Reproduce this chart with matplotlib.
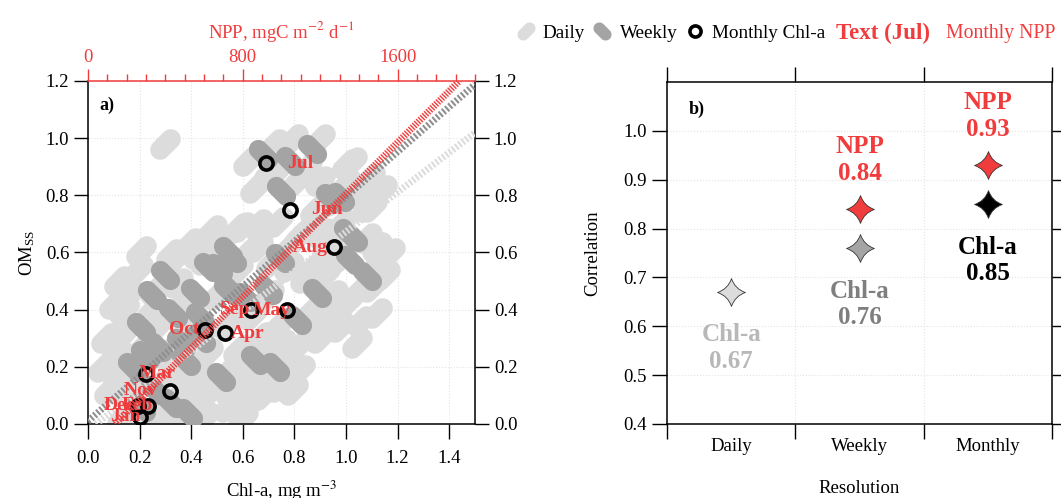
import numpy as np
import matplotlib
matplotlib.use('Agg')
import matplotlib.pyplot as plt
from matplotlib.path import Path
from matplotlib.lines import Line2D
from matplotlib.ticker import MultipleLocator, FormatStrFormatter

plt.rcParams['font.family'] = ['Liberation Serif', 'DejaVu Serif']
plt.rcParams['mathtext.fontset'] = 'stix'

# daily / weekly Chl-a vs OMss
daily_chl = [0.297, 0.646, 0.581, 0.491, 0.426, 0.207, 0.323, 0.796, 0.899, 1.003,
             1.093, 1.041, 0.809, 1.132, 1.170, 0.873, 1.119, 1.041, 0.977, 0.951,
             1.041, 0.809, 0.822, 0.796, 0.194, 0.323, 0.452, 0.581, 0.711, 0.129,
             0.168, 0.116, 0.155, 0.258, 0.323, 0.452, 0.543, 0.620, 0.711, 0.775,
             0.426, 0.465, 0.581, 0.672, 0.749, 0.388, 0.258, 0.349, 1.022, 0.596,
             0.738, 0.906, 0.395, 0.841, 0.700, 0.930, 0.980, 0.880, 0.700, 0.600,
             0.900, 0.950, 0.500, 0.300, 0.250, 0.160, 0.550, 0.350, 0.870, 0.660,
             0.780, 1.080, 0.220, 0.140, 0.420,
             0.100, 0.120, 0.110, 0.080, 0.130, 0.380, 0.480, 0.400, 0.300, 0.560,
             0.680, 0.750, 0.620, 0.700, 0.920, 1.100, 0.980, 1.060, 0.880, 1.000,
             0.480, 0.660, 0.620, 0.520, 0.620, 0.720, 0.750, 0.850, 0.900, 0.950,
             1.100, 0.870, 0.820, 0.780, 0.200, 0.280, 0.360, 0.540, 0.640, 0.740,
             0.070, 0.060, 1.140, 1.080, 1.150, 1.120, 1.000, 0.600]
daily_om = [0.979, 0.827, 0.687, 0.629, 0.594, 0.605, 0.594, 0.996, 0.996, 0.909,
            0.862, 0.815, 0.850, 0.574, 0.598, 0.550, 0.387, 0.282, 0.340, 0.375,
            0.457, 0.270, 0.189, 0.119, 0.539, 0.562, 0.574, 0.539, 0.562, 0.305,
            0.235, 0.166, 0.107, 0.049, 0.014, 0.026, 0.061, 0.119, 0.166, 0.212,
            0.166, 0.247, 0.259, 0.305, 0.352, 0.340, 0.469, 0.492, 0.918, 0.690,
            0.708, 0.667, 0.632, 0.510, 0.880, 0.620, 0.700, 0.750, 0.450, 0.400,
            0.300, 0.450, 0.450, 0.250, 0.400, 0.450, 0.120, 0.100, 0.400, 0.620,
            0.620, 0.650, 0.280, 0.400, 0.080,
            0.420, 0.500, 0.250, 0.120, 0.020, 0.180, 0.120, 0.050, 0.160, 0.200,
            0.100, 0.280, 0.180, 0.250, 0.520, 0.480, 0.580, 0.360, 0.330, 0.420,
            0.680, 0.700, 0.600, 0.560, 0.920, 0.980, 0.900, 0.900, 0.850, 0.780,
            0.760, 0.700, 0.660, 0.550, 0.180, 0.350, 0.420, 0.350, 0.380, 0.130,
            0.300, 0.200, 0.820, 0.760, 0.520, 0.620, 0.840, 0.020]

weekly_chl = [0.678, 0.749, 0.543, 0.867, 0.783, 0.938, 1.009, 1.016, 1.081, 0.886,
              0.809, 0.504, 0.413, 0.329, 0.207, 0.271, 0.362, 0.543, 0.607, 0.698,
              0.517, 0.646, 0.724, 0.258, 0.323, 0.207, 0.388, 0.977, 1.028, 0.466,
              0.557, 0.744, 0.434, 0.550, 0.250, 0.300, 0.440, 0.380, 0.170, 0.220]
weekly_om = [0.944, 0.815, 0.605, 0.961, 0.920, 0.792, 0.669, 0.574, 0.516, 0.457,
             0.364, 0.545, 0.457, 0.387, 0.340, 0.270, 0.282, 0.469, 0.445, 0.469,
             0.166, 0.224, 0.200, 0.119, 0.072, 0.061, 0.037, 0.795, 0.655, 0.550,
             0.580, 0.580, 0.375, 0.469, 0.450, 0.520, 0.300, 0.220, 0.200, 0.240]

# monthly climatology
months = ['Jan', 'Feb', 'Mar', 'Apr', 'May', 'Jun', 'Jul', 'Aug', 'Sep', 'Oct', 'Nov', 'Dec']
month_chl = [0.200, 0.234, 0.225, 0.531, 0.773, 0.783, 0.690, 0.955, 0.632, 0.453, 0.318, 0.195]
month_npp = [195, 255, 358, 823, 949, 1233, 1096, 1147, 761, 496, 272, 162]
month_om = [0.026, 0.064, 0.175, 0.318, 0.398, 0.749, 0.913, 0.618, 0.400, 0.330, 0.116, 0.064]

# regression lines (end points)
fit_daily_x, fit_daily_y = [0.03, 1.5], [0.0, 1.019]
fit_weekly_x, fit_weekly_y = [0.0, 1.5], [0.01, 1.188]
fit_npp_x, fit_npp_y = [140, 1920], [0.0, 1.201]

# correlation panel
resolutions = ['Daily', 'Weekly', 'Monthly']
r_chl = [0.67, 0.76, 0.85]
r_npp_pos = [1, 2]
r_npp = [0.84, 0.93]

light = '#dcdcdc'
mid = '#a4a4a4'
red = '#f03c3c'


def capsule(angle, length=1.75, r=0.5):
    t = np.linspace(-np.pi/2, np.pi/2, 16)
    right = np.c_[length/2 - r + r*np.cos(t), r*np.sin(t)]
    left = np.c_[-(length/2 - r) - r*np.cos(t), -r*np.sin(t)]
    pts = np.vstack([right, left, right[:1]])
    a = np.deg2rad(angle)
    rot = np.array([[np.cos(a), -np.sin(a)], [np.sin(a), np.cos(a)]])
    pts = pts @ rot.T
    codes = [Path.MOVETO] + [Path.LINETO]*(len(pts)-2) + [Path.CLOSEPOLY]
    return Path(pts, codes)


def star4(c=0.25):
    verts = [(1, 0), (c, c), (0, 1), (-c, c), (-1, 0), (-c, -c), (0, -1), (c, -c), (1, 0), (1, 0)]
    codes = [Path.MOVETO] + [Path.CURVE3]*8 + [Path.CLOSEPOLY]
    return Path(verts, codes)


fig = plt.figure(figsize=(10.61, 4.98), dpi=100)

# ---------------- panel a ----------------
ax = fig.add_axes([0.0829, 0.1486, 0.3648, 0.6888])
ax.set_xlim(0, 1.5)
ax.set_ylim(0, 1.2)
ax.set_axisbelow(True)
ax.grid(True, color='#e4e4e4', linestyle=':', linewidth=0.8)
ax.set_xticks(np.arange(0, 1.41, 0.2))
ax.set_yticks(np.arange(0, 1.21, 0.2))
ax.xaxis.set_major_formatter(FormatStrFormatter('%.1f'))
ax.yaxis.set_major_formatter(FormatStrFormatter('%.1f'))
ax.tick_params(direction='out', length=10, width=1, labelsize=13.5,
               right=True, labelright=True, top=False)
ax.tick_params(axis='x', length=11, pad=8)

ax.plot(daily_chl, daily_om, linestyle='none', marker=capsule(45), ms=22,
        mfc=light, mec='none', zorder=2)
ax.plot(weekly_chl, weekly_om, linestyle='none', marker=capsule(-45), ms=21,
        mfc=mid, mec='none', zorder=3)
ax.plot(fit_daily_x, fit_daily_y, color=light, lw=5, dashes=(0.3, 0.3),
        dash_capstyle='butt', zorder=4)
ax.plot(fit_weekly_x, fit_weekly_y, color='#8f8f8f', lw=5, dashes=(0.3, 0.3),
        dash_capstyle='butt', zorder=4)
ax.plot(month_chl, month_om, linestyle='none', marker='o', ms=9.5, mfc='none',
        mec='black', mew=2.6, zorder=5)
ax.set_xlabel('Chl-a, mg m$^{-3}$', fontsize=13.5, labelpad=8)
ax.set_ylabel('OM$_{\\mathregular{SS}}$', fontsize=13.5, labelpad=6)
ax.text(0.03, 0.955, 'a)', transform=ax.transAxes, fontsize=13, fontweight='bold',
        va='top')
for s in ['left', 'bottom', 'right']:
    ax.spines[s].set_linewidth(1.1)
ax.spines['top'].set_visible(False)

ax2 = ax.twiny()
ax2.set_xlim(0, 2000)
ax2.set_xticks([0, 800, 1600])
ax2.xaxis.set_minor_locator(MultipleLocator(100))
ax2.tick_params(axis='x', colors=red, direction='out', length=9, width=1,
                labelsize=13.5, pad=2)
ax2.tick_params(axis='x', which='minor', colors=red, direction='out', length=5, width=1)
for s in ['left', 'bottom', 'right']:
    ax2.spines[s].set_visible(False)
ax2.spines['top'].set_color(red)
ax2.spines['top'].set_linewidth(1.1)
ax2.plot(fit_npp_x, fit_npp_y, color=red, lw=5, dashes=(0.2, 0.2),
         dash_capstyle='butt', zorder=4)
for m, xn, yo in zip(months, month_npp, month_om):
    ax2.text(xn, yo, m, color=red, fontsize=14, fontweight='bold',
             ha='center', va='center', zorder=6)
ax2.set_xlabel('NPP, mgC m$^{-2}$ d$^{-1}$', color=red, fontsize=13.5, labelpad=8)

# ---------------- panel b ----------------
bx = fig.add_axes([0.6287, 0.1486, 0.3629, 0.6867])
bx.set_xlim(0, 3)
bx.set_ylim(0.4, 1.1)
bx.set_yticks(np.arange(0.4, 1.01, 0.1))
bx.yaxis.set_major_formatter(FormatStrFormatter('%.1f'))
bx.set_xticks([0, 1, 2, 3])
bx.set_xticklabels([])
bx.set_xticks([0.5, 1.5, 2.5], minor=True)
bx.set_xticklabels(resolutions, minor=True)
bx.tick_params(axis='x', which='minor', length=0, labelsize=13.5, pad=10)
bx.tick_params(axis='x', which='major', direction='out', length=11, width=1,
               top=True)
bx.tick_params(axis='y', direction='out', length=11, width=1, right=True,
               labelsize=13.5)
bx.grid(True, which='major', color='#e4e4e4', linestyle=':', linewidth=0.8)
for s in bx.spines.values():
    s.set_linewidth(1.1)

chl_fill = [light, mid, 'black']
chl_text = ['#b8b8b8', '#7f7f7f', 'black']
pos = [0.5, 1.5, 2.5]
for x, r, fc, tc in zip(pos, r_chl, chl_fill, chl_text):
    bx.plot([x], [r], linestyle='none', marker=star4(), ms=20, mfc=fc,
            mec='#333333', mew=0.6, zorder=4)
    bx.text(x, r - 0.115, 'Chl-a\n%.2f' % r, color=tc, fontsize=18,
            fontweight='bold', ha='center', va='center', linespacing=1.2)
for i, r in zip(r_npp_pos, r_npp):
    bx.plot([pos[i]], [r], linestyle='none', marker=star4(), ms=20, mfc=red,
            mec='#333333', mew=0.6, zorder=4)
    bx.text(pos[i], r + 0.1, 'NPP\n%.2f' % r, color=red, fontsize=18,
            fontweight='bold', ha='center', va='center', linespacing=1.2)
bx.text(0.055, 0.92, 'b)', transform=bx.transAxes, fontsize=13, fontweight='bold',
        va='center')
bx.set_ylabel('Correlation', fontsize=13.5, labelpad=16)
bx.set_xlabel('Resolution', fontsize=13.5, labelpad=18)

# ---------------- legend ----------------
handles = [
    Line2D([], [], linestyle='none', marker=capsule(45), ms=13, mfc=light, mec='none'),
    Line2D([], [], linestyle='none', marker=capsule(-45), ms=13, mfc=mid, mec='none'),
    Line2D([], [], linestyle='none', marker='o', ms=8, mfc='none', mec='black', mew=2.6),
]
fig.legend(handles, ['Daily', 'Weekly', 'Monthly Chl-a'], loc='center left',
           bbox_to_anchor=(0.47, 0.933), ncol=3, frameon=False, fontsize=13.8,
           handlelength=1.0, handletextpad=0.4, columnspacing=0.4)
fig.text(0.788, 0.933, 'Text (Jul)', color=red, fontsize=16.5, fontweight='bold',
         va='center')
fig.text(0.892, 0.933, 'Monthly NPP', color=red, fontsize=14.2, va='center')

fig.savefig('out.png', dpi=100)
